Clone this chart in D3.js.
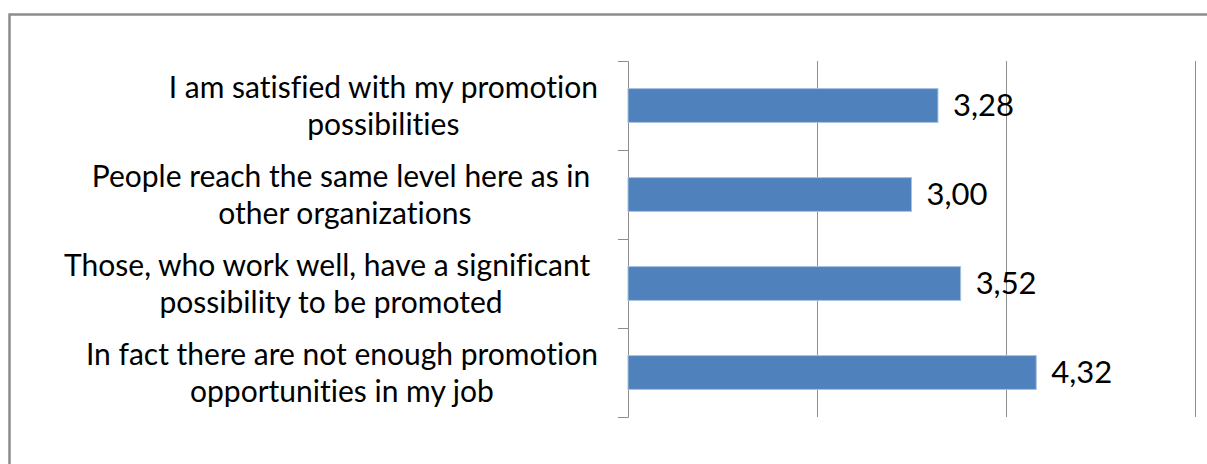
<!DOCTYPE html>
<html lang="en">
<head>
  <meta charset="UTF-8">
  <title>Promotion possibilities</title>
  <style>
    body { margin: 0; background: #fff; }
    svg { display: block; }
    text {
      font-family: Lato, "Open Sans", sans-serif;
      fill: #000;
      font-variant-ligatures: none;
      white-space: pre;
    }
  </style>
</head>
<body>
  <svg width="1207" height="464"></svg>
  <script src="https://d3js.org/d3.v7.min.js"></script>
  <script>
    // data (top to bottom); trailing blanks kept as in the source labels
    var categories = [
      ['I am satisfied with my promotion', 'possibilities'],
      ['People reach the same level here as in ', 'other organizations'],
      ['Those, who work well, have a significant ', 'possibility to be promoted'],
      ['In fact there are not enough promotion', 'opportunities in my job']
    ];
    var values = [3.28, 3.00, 3.52, 4.32];
    var gridTicks = [2, 4, 6];

    var width = 1207;
    var height = 464;
    var plot = { left: 628, right: 1195, top: 61, bottom: 417 };
    var fontSize = 30;
    var valueFontSize = 31;

    var svg = d3.select('svg');

    // outer chart frame (runs off the right and bottom edge)
    svg.append('rect')
      .attr('x', 9.5).attr('y', 14.5)
      .attr('width', width + 20).attr('height', height + 20)
      .style('fill', 'none')
      .style('stroke', '#8c8c8c')
      .style('stroke-width', 2.5);

    var ids = categories.map((d, i) => i);
    var xScale = d3.scaleLinear()
      .domain([0, 6])
      .range([plot.left, plot.right]);
    var yScale = d3.scaleBand()
      .domain(ids)
      .range([plot.top, plot.bottom])
      .paddingInner(0.62)
      .paddingOuter(0.31);

    // vertical gridlines
    var grid = svg.append('g')
      .attr('transform', 'translate(' + [0, plot.bottom] + ')')
      .call(d3.axisBottom(xScale)
        .tickValues(gridTicks)
        .tickSize(-(plot.bottom - plot.top))
        .tickFormat(''));
    grid.select('.domain').remove();
    grid.selectAll('line').style('stroke', '#8e8e8e');

    // category axis: ticks sit on the band boundaries
    var edges = d3.scaleLinear()
      .domain([0, categories.length])
      .range([plot.top, plot.bottom]);
    var yAxis = svg.append('g')
      .attr('transform', 'translate(' + [plot.left, 0] + ')')
      .call(d3.axisLeft(edges)
        .ticks(categories.length)
        .tickSize(10)
        .tickSizeOuter(10)
        .tickFormat(''));
    yAxis.select('.domain').style('stroke', '#8e8e8e');
    yAxis.selectAll('line').style('stroke', '#8e8e8e');

    // bars
    svg.selectAll('.bar')
      .data(values)
      .enter().append('rect')
      .attr('class', 'bar')
      .attr('x', xScale(0))
      .attr('y', (d, i) => yScale(i))
      .attr('width', d => xScale(d) - xScale(0))
      .attr('height', yScale.bandwidth())
      .style('fill', '#4f81bd')
      .style('stroke', '#a7c0de')
      .style('stroke-width', 1);

    // value labels
    svg.selectAll('.val')
      .data(values)
      .enter().append('text')
      .attr('class', 'val')
      .attr('x', d => xScale(d) + 15)
      .attr('y', (d, i) => yScale(i) + yScale.bandwidth() / 2)
      .attr('dy', '0.35em')
      .style('font-size', valueFontSize + 'px')
      .text(d => d.toFixed(2).replace('.', ','));

    // category labels, two centred lines, block right aligned to the axis
    var lineGap = 37;
    var labelRight = 598;
    categories.forEach((lines, i) => {
      var cy = yScale(i) + yScale.bandwidth() / 2;
      var t = svg.append('text')
        .style('font-size', fontSize + 'px')
        .attr('text-anchor', 'middle');
      var spans = lines.map((s, k) => t.append('tspan')
        .attr('y', cy + (k - (lines.length - 1) / 2) * lineGap)
        .attr('dy', '0.35em')
        .text(s));
      var w = d3.max(spans, sp => sp.node().getComputedTextLength());
      spans.forEach(sp => sp.attr('x', labelRight - w / 2));
    });
  </script>
</body>
</html>
